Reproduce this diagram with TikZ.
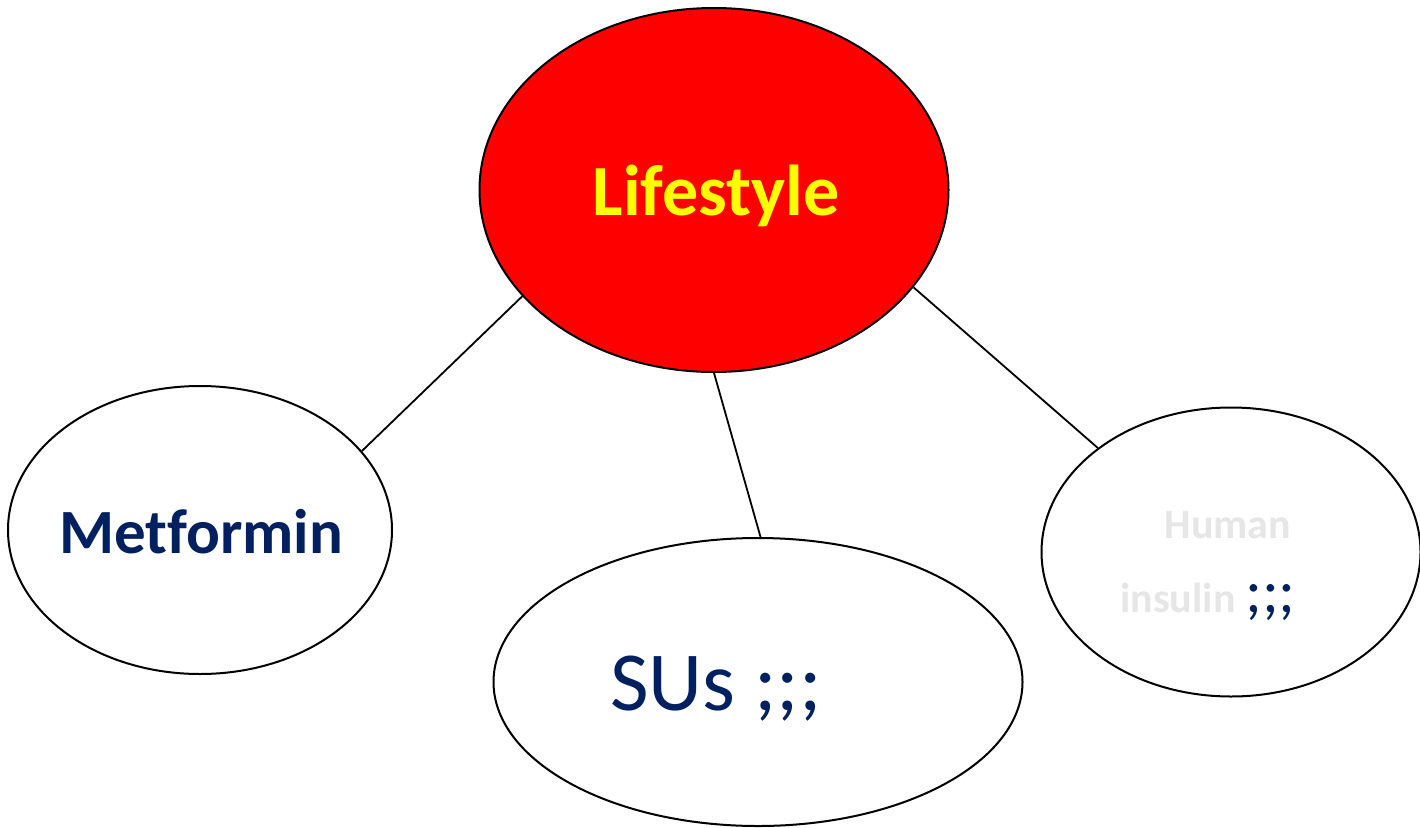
\documentclass[tikz,border=0pt]{standalone}
\usepackage{fontspec}
\setmainfont[Ligatures={NoCommon}]{Carlito}
\usetikzlibrary{shapes.geometric}
\definecolor{navy}{HTML}{002060}
\definecolor{lgray}{HTML}{E7E6E6}
\tikzset{
  oval/.style={ellipse, draw=black, line width=2pt, inner sep=0pt, fill=white},
  link/.style={draw=black, line width=1.8pt},
  lbl/.style={anchor=base, inner sep=0pt}
}
\begin{document}
\begin{tikzpicture}[x=1pt,y=-1pt]
\useasboundingbox (0,0) rectangle (1420,827);
\node[oval, fill={rgb,255:red,255;green,0;blue,0}, minimum width=469pt, minimum height=364pt] (life) at (714,190) {};
\node[oval, minimum width=384pt, minimum height=288pt] (met) at (200,530) {};
\node[oval, minimum width=529pt, minimum height=288pt] (sus) at (758,682) {};
\node[oval, minimum width=379pt, minimum height=289pt] (hum) at (1231,552) {};
\draw[link] (life.209.5) -- (met.26.8);
\draw[link] (life.south) -- (sus.89.6);
\draw[link] (life.334.2) -- (hum.142.5);
\node[lbl, text={rgb,255:red,255;green,255;blue,0}, font=\fontsize{72}{80}\selectfont\bfseries] (tlife) at (716,215) {Lifestyle};
\node[lbl, text=navy, font=\fontsize{63}{70}\selectfont\bfseries] (tmet) at (201,553) {Metformin};
\node[lbl, text=navy, font=\fontsize{84}{90}\selectfont] (tsus) at (716,710) {SUs ;;;};
\node[lbl, text=lgray, font=\fontsize{42}{48}\selectfont\bfseries] (thum) at (1228,538) {Human};
\node[lbl, font=\fontsize{42}{48}\selectfont] (tins) at (1208,612) {\textcolor{lgray}{\bfseries insulin} \textcolor{navy}{\fontsize{63}{70}\selectfont;;;}};
\end{tikzpicture}
\end{document}
